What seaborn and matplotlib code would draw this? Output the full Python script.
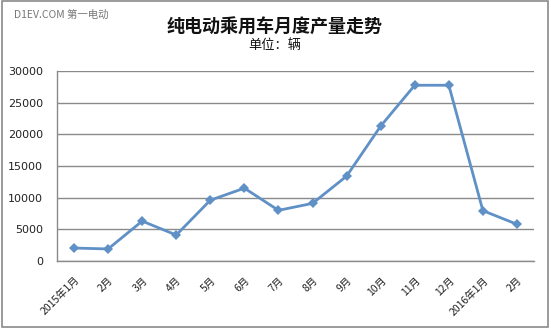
import matplotlib
matplotlib.use("Agg")
import matplotlib.pyplot as plt
import seaborn as sns
import pandas as pd
from matplotlib.patches import Rectangle

months = ["2015年1月", "2月", "3月", "4月", "5月", "6月", "7月", "8月", "9月",
          "10月", "11月", "12月", "2016年1月", "2月"]
production = [2050, 1900, 6300, 4100, 9600, 11500, 8000, 9100, 13400,
              21300, 27750, 27750, 7950, 5800]
yticks = [0, 5000, 10000, 15000, 20000, 25000, 30000]

sns.set_style("white")
plt.rcParams['font.family'] = ['Noto Sans CJK SC', 'DejaVu Sans']

df = pd.DataFrame({"idx": range(len(months)), "val": production})

W, H = 551, 330
fig = plt.figure(figsize=(W / 100, H / 100), dpi=100)
ax = fig.add_axes([57 / W, 1 - 261 / H, (534 - 57) / W, (261 - 71) / H])

sns.lineplot(data=df, x="idx", y="val", ax=ax, color="#5F90C6", linewidth=2,
             marker="D", markersize=5, markeredgewidth=0)

ax.set_xlim(-0.5, len(months) - 0.5)
ax.set_ylim(0, 30000)
ax.set_yticks(yticks)
ax.set_yticklabels([str(v) for v in yticks], fontsize=8, color="#222222",
                   family="DejaVu Sans")
ax.yaxis.grid(True, color="#8a8a8a", linewidth=1)
ax.set_axisbelow(True)

ax.set_xticks(range(len(months)))
ax.set_xticklabels(months, rotation=45, ha="right", rotation_mode="anchor",
                   fontsize=7.5, color="#222222")
ax.tick_params(axis="x", which="major", length=0, pad=10)
ax.set_xticks([i - 0.5 for i in range(len(months) + 1)], minor=True)
ax.tick_params(axis="x", which="minor", length=4, color="#8a8a8a", width=1, direction="out")
ax.tick_params(axis="y", length=4, color="#8a8a8a", width=1, direction="out", pad=6)

for s in ["top", "right"]:
    ax.spines[s].set_visible(False)
for s in ["left", "bottom"]:
    ax.spines[s].set_color("#8a8a8a")
    ax.spines[s].set_linewidth(1)
ax.set_xlabel("")
ax.set_ylabel("")

fig.text(275 / W, 1 - 27 / H, "纯电动乘用车月度产量走势", ha="center", va="center",
         fontsize=13, fontweight="bold", color="#111111")
fig.text(275 / W, 1 - 46 / H, "单位：辆", ha="center", va="center",
         fontsize=9.5, color="#111111")
fig.text(14 / W, 1 - 15 / H, "D1EV.COM 第一电动", ha="left", va="center",
         fontsize=7.5, color="#777777")

fig.patches.append(Rectangle((2 / W, 1 - 327 / H), 546 / W, 326 / H,
                             transform=fig.transFigure, fill=False,
                             edgecolor="#8a8a8a", linewidth=1.2))

fig.savefig("out.png", dpi=100)
